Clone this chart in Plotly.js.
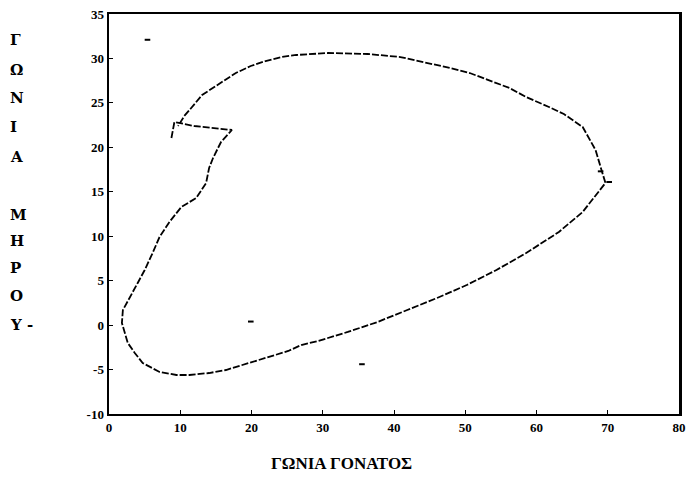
<!DOCTYPE html>
<html>
<head>
<meta charset="utf-8">
<script src="https://cdn.plot.ly/plotly-3.0.1.min.js"></script>
<style>html,body{margin:0;padding:0;background:#fff;}#chart{width:688px;height:481px;}</style>
</head>
<body>
<div id="chart"></div>
<script>
// Knee angle (x) vs hip angle (y)
var kneeAngle = [8.76, 9.18, 11.96, 15.02, 17.25, 15.72, 14.60, 14.05, 13.63, 12.24, 10.15, 8.48, 7.09, 6.12, 5.01, 4.03, 2.92, 1.95, 1.81, 2.23, 2.64, 3.62, 4.73, 7.09, 9.46, 11.27, 14.05, 16.41, 18.64, 21.00, 23.37, 25.17, 26.98, 29.35, 33.52, 37.69, 41.86, 46.04, 50.21, 54.38, 58.55, 63.14, 66.48, 68.29, 69.68, 69.12, 68.29, 66.48, 63.84, 61.75, 58.55, 56.19, 53.96, 50.63, 47.84, 44.23, 40.89, 36.30, 30.74, 26.29, 24.20, 21.97, 19.89, 17.80, 14.05, 13.07, 11.54, 10.57, 9.70];
var hipAngle = [21.05, 22.85, 22.40, 22.18, 21.95, 20.60, 18.80, 17.68, 15.99, 14.30, 13.29, 11.60, 9.91, 8.11, 6.20, 4.74, 3.16, 1.70, 0.24, -0.89, -2.01, -3.14, -4.26, -5.27, -5.61, -5.61, -5.39, -5.05, -4.49, -3.93, -3.36, -2.91, -2.24, -1.79, -0.77, 0.35, 1.70, 3.05, 4.51, 6.20, 8.11, 10.48, 12.73, 14.64, 15.99, 17.45, 19.70, 22.29, 23.75, 24.54, 25.66, 26.68, 27.35, 28.36, 28.93, 29.60, 30.16, 30.50, 30.61, 30.39, 30.16, 29.71, 29.15, 28.36, 26.34, 25.89, 24.43, 23.53, 22.40];
// stray marks visible on the scan
var speckX = [5.4, 19.9, 35.5, 69.0, 70.2];
var speckY = [32.1, 0.4, -4.4, 17.3, 16.1];
var xTicks = [0, 10, 20, 30, 40, 50, 60, 70, 80];
var yTicks = [-10, -5, 0, 5, 10, 15, 20, 25, 30, 35];
var yTitleLetters = ["Γ", "Ω", "Ν", "Ι", "Α", "Μ", "Η", "Ρ", "Ο", "Υ -"];
var yTitlePix = [40, 70, 98, 127, 157, 215, 241, 268, 296, 325];

var plotW = 688 - 109 - 9;

var traces = [
  {x: kneeAngle, y: hipAngle, mode: 'lines', type: 'scatter',
   line: {color: '#000', width: 1.8, dash: '7px,2px'}, hoverinfo: 'none'},
  {x: speckX, y: speckY, mode: 'markers', type: 'scatter',
   marker: {color: '#000', size: 4, symbol: 'line-ew-open', line: {width: 2, color: '#000'}}, hoverinfo: 'none'}
];

var annotations = yTitleLetters.map(function (t, i) {
  return {text: '<b>' + t + '</b>', xref: 'paper', yref: 'paper',
    x: (8 - 109) / plotW, y: (414 - yTitlePix[i]) / 400, xanchor: 'left', yanchor: 'middle',
    showarrow: false, font: {family: 'DejaVu Serif', size: 15, color: '#000'}};
});
annotations.push({text: '<b>ΓΩΝΙΑ ΓΟΝΑΤΟΣ</b>', xref: 'paper', yref: 'paper',
  x: (341 - 109) / plotW, y: (414 - 463) / 400, xanchor: 'center', yanchor: 'middle',
  showarrow: false, font: {family: 'Liberation Serif', size: 17, color: '#000'}});

function bold(v) { return '<b>' + v + '</b>'; }

var layout = {
  width: 688, height: 481,
  margin: {l: 109, r: 9, t: 14, b: 67},
  paper_bgcolor: '#fff', plot_bgcolor: '#fff',
  showlegend: false,
  xaxis: {range: [0, 80], tickvals: xTicks, ticktext: xTicks.map(bold),
    ticklabeloverflow: 'allow',
    showgrid: false, zeroline: false, showline: true, mirror: true,
    linecolor: '#000', linewidth: 2, ticks: 'inside', ticklen: 4, tickcolor: '#000',
    tickfont: {family: 'Liberation Serif', size: 13, color: '#000'}},
  yaxis: {range: [-10, 35], tickvals: yTicks, ticktext: yTicks.map(bold),
    ticklabeloverflow: 'allow',
    showgrid: false, zeroline: false, showline: true, mirror: true,
    linecolor: '#000', linewidth: 2.5, ticks: 'inside', ticklen: 4, tickcolor: '#000',
    tickfont: {family: 'Liberation Serif', size: 13, color: '#000'}},
  annotations: annotations
};

Plotly.newPlot('chart', traces, layout, {displayModeBar: false, staticPlot: true});
</script>
</body>
</html>
